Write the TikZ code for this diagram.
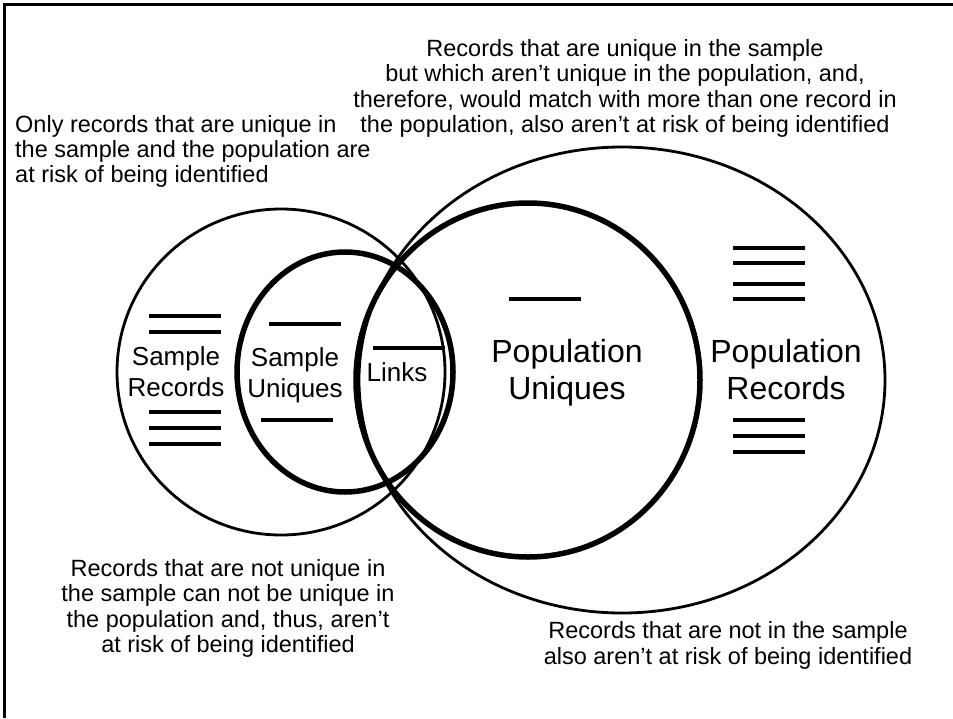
\documentclass[tikz,border=0pt]{standalone}
\usepackage{fontspec}
\setmainfont{Liberation Sans}

\def\thinw{2.8pt}
\def\thickw{5.5pt}

\begin{document}
\begin{tikzpicture}[x=1pt, y=-1pt,
    setline/.style={line width=\thinw},
    uniqline/.style={line width=\thickw},
    recbar/.style={line width=4pt},
    note/.style={anchor=center, align=center, inner sep=0pt, font=\fontsize{23.5}{25.3}\selectfont},
    setname/.style={anchor=center, align=center, inner sep=0pt, font=\fontsize{26}{31}\selectfont},
    popname/.style={anchor=center, align=center, inner sep=0pt, font=\fontsize{32}{37}\selectfont}]
      \useasboundingbox (0,0) rectangle (953,718);
      \draw[line width=3pt] (953,4) -- (4,4) -- (4,718);
      % the four sets
      \draw[setline] (281,372) ellipse [x radius=164, y radius=163];
      \draw[uniqline] (345,372) ellipse [x radius=108, y radius=120];
      \draw[setline] (622,380) ellipse [x radius=263, y radius=233];
      \draw[uniqline] (528,380) ellipse [x radius=172, y radius=177];
      % records
      \foreach \y in {316,332,412,428,444}
        \draw[recbar] (149,\y) -- (221,\y);
      \draw[recbar] (269,324) -- (341,324);
      \draw[recbar] (261,420) -- (333,420);
      \draw[recbar] (373,348) -- (445,348);
      \draw[recbar] (509,299) -- (581,299);
      \foreach \y in {248,263,284,299,420,436,452}
        \draw[recbar] (733,\y) -- (805,\y);
      % labels
      \node[setname] (samplerec) at (176,372) {Sample\\Records};
      \node[setname] (sampleuniq) at (295,375) {Sample\\Uniques};
      \node[setname] (links) at (397,372.5) {Links};
      \node[popname] (popuniq) at (567,373) {Population\\Uniques};
      \node[popname] (poprec) at (786,370) {Population\\Records};
      % notes
      \node[note] (notetop) at (625,88.5) {Records that are unique in the sample\\but which aren’t unique in the population, and,\\therefore, would match with more than one record in\\the population, also aren’t at risk of being identified};
      \node[note, anchor=west, align=left] (noteleft) at (15,151.5) {Only records that are unique in\\the sample and the population are\\at risk of being identified};
      \node[note] (notebottom) at (228,608.5) {Records that are not unique in\\the sample can not be unique in\\the population and, thus, aren’t\\at risk of being identified};
      \node[note] (noteright) at (728,645.5) {Records that are not in the sample\\also aren’t at risk of being identified};
\end{tikzpicture}
\end{document}
